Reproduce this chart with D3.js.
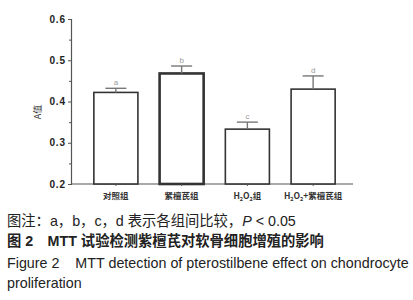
<!DOCTYPE html>
<html>
<head>
<meta charset="utf-8">
<script src="https://cdn.jsdelivr.net/npm/d3@7"></script>
<style>
  body { margin: 0; background: #fff; }
  svg { display: block; }
  text { white-space: pre; }
</style>
</head>
<body>
<svg id="chart" width="413" height="300"></svg>
<script>
// Data
const groups = ['对照组', '紫檀芪组', 'H2O2组', 'H2O2+紫檀芪组'];
const means = [0.422, 0.468, 0.333, 0.430];
const errors = [0.010, 0.018, 0.017, 0.032];
const letters = ['a', 'b', 'c', 'd'];
const yTicks = [0.2, 0.3, 0.4, 0.5, 0.6];
const yMinor = [0.25, 0.35, 0.45, 0.55];
const captions = [
    '图注：a，b，c，d 表示各组间比较，',
    '图 2　MTT 试验检测紫檀芪对软骨细胞增殖的影响',
    'Figure 2    MTT detection of pterostilbene effect on chondrocyte',
    'proliferation'
];

const svg = d3.select('#chart');

const x = d3.scaleBand().domain(groups).range([83, 346]).paddingInner(0.33).paddingOuter(0.165);
const y = d3.scaleLinear().domain([0.2, 0.6]).range([184, 19]);

const axisColor = '#555';

// Y axis
const yAxisG = svg.append('g').attr('transform', 'translate(71,0)');
yAxisG.call(d3.axisLeft(y).tickValues(yTicks).tickFormat(d3.format('.1f')).tickSize(3).tickPadding(2));
yAxisG.append('g').call(d3.axisLeft(y).tickValues(yMinor).tickFormat('').tickSize(2))
    .select('.domain').remove();
yAxisG.selectAll('.domain').attr('stroke', axisColor).attr('stroke-width', 1.2);
yAxisG.selectAll('.tick line').attr('stroke', axisColor);
yAxisG.selectAll('.tick text')
    .attr('font-family', 'Liberation Sans, Arial, sans-serif')
    .attr('font-size', 10).attr('font-weight', 'bold')
    .attr('letter-spacing', 0.9).attr('fill', '#222');

// X axis line
svg.append('line')
    .attr('x1', 71).attr('x2', 353).attr('y1', y(0.2)).attr('y2', y(0.2))
    .attr('stroke', axisColor).attr('stroke-width', 1.2);

// Bars
const bars = svg.append('g').selectAll('g').data(groups).join('g');

bars.append('rect')
    .attr('x', d => x(d))
    .attr('width', x.bandwidth())
    .attr('y', (d, i) => y(means[i]))
    .attr('height', (d, i) => y(0.2) - y(means[i]))
    .attr('fill', '#fff')
    .attr('stroke', '#333')
    .attr('stroke-width', (d, i) => i === 1 ? 2.6 : 1.6);

// Error bars
const capW = 10.5;
bars.append('line')
    .attr('x1', d => x(d) + x.bandwidth() / 2).attr('x2', d => x(d) + x.bandwidth() / 2)
    .attr('y1', (d, i) => y(means[i])).attr('y2', (d, i) => y(means[i] + errors[i]))
    .attr('stroke', '#777').attr('stroke-width', 1.4);
bars.append('line')
    .attr('x1', d => x(d) + x.bandwidth() / 2 - capW).attr('x2', d => x(d) + x.bandwidth() / 2 + capW)
    .attr('y1', (d, i) => y(means[i] + errors[i])).attr('y2', (d, i) => y(means[i] + errors[i]))
    .attr('stroke', '#777').attr('stroke-width', 1.4);

// Significance letters
bars.append('text')
    .attr('x', d => x(d) + x.bandwidth() / 2)
    .attr('y', (d, i) => y(means[i] + errors[i]) - 3)
    .attr('text-anchor', 'middle')
    .attr('font-family', 'Liberation Sans, Arial, sans-serif')
    .attr('font-size', 8).attr('fill', '#999')
    .text((d, i) => letters[i]);

// X ticks
bars.append('line')
    .attr('x1', d => x(d) + x.bandwidth() / 2).attr('x2', d => x(d) + x.bandwidth() / 2)
    .attr('y1', y(0.2)).attr('y2', y(0.2) + 2)
    .attr('stroke', axisColor);

// Category labels (with subscripts)
const catFont = '"Noto Sans CJK SC", "Liberation Sans", sans-serif';
const labelG = svg.append('g');
groups.forEach((g, i) => {
    const t = labelG.append('text')
        .attr('x', x(g) + x.bandwidth() / 2)
        .attr('y', 199)
        .attr('text-anchor', 'middle')
        .attr('font-family', catFont)
        .attr('font-size', 8.5).attr('font-weight', 'bold')
        .attr('fill', '#333');
    const parts = g.split('2');
    parts.forEach((p, j) => {
        const s = t.append('tspan').text(p);
        if (j > 0) s.attr('dy', -2);
        if (j < parts.length - 1) {
            t.append('tspan').attr('font-size', 5.5).attr('dy', 2).text('2');
        }
    });
});

// Y label
svg.append('text')
    .attr('transform', 'translate(41,112) rotate(-90)')
    .attr('text-anchor', 'middle')
    .attr('font-family', catFont)
    .attr('font-size', 9).attr('fill', '#333')
    .text('A值');

// Caption
const capFont = '"Liberation Sans", "Noto Sans CJK SC", sans-serif';
const capSize = 14.3;
const c1 = svg.append('text').attr('x', 7).attr('y', 226)
    .attr('font-family', capFont).attr('font-size', capSize).attr('fill', '#222');
c1.append('tspan').text(captions[0]);
c1.append('tspan').attr('font-style', 'italic').text('P');
c1.append('tspan').text(' < 0.05');

svg.append('text').attr('x', 7).attr('y', 246)
    .attr('font-family', capFont).attr('font-size', capSize).attr('font-weight', 'bold').attr('fill', '#222')
    .text(captions[1]);
svg.append('text').attr('x', 7).attr('y', 268)
    .attr('font-family', capFont).attr('font-size', capSize).attr('fill', '#222')
    .text(captions[2]);
svg.append('text').attr('x', 7).attr('y', 288)
    .attr('font-family', capFont).attr('font-size', capSize).attr('fill', '#222')
    .text(captions[3]);
</script>
</body>
</html>
